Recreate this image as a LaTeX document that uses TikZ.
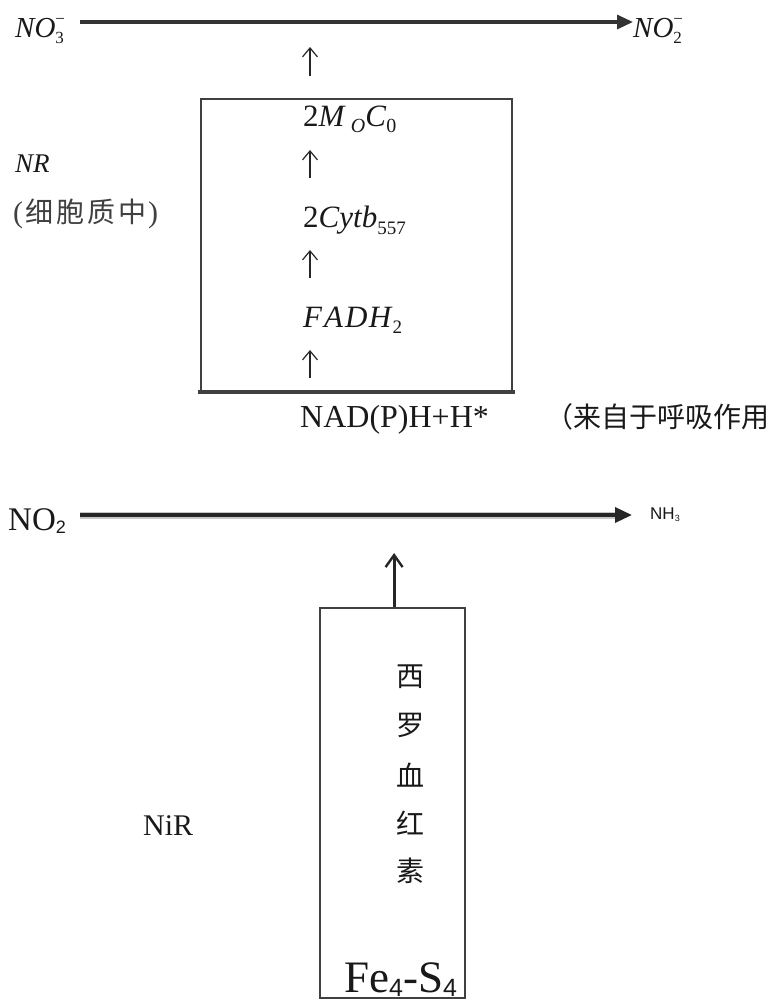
\documentclass[tikz,border=0pt]{standalone}
\usepackage{fontspec}
\setmainfont{Liberation Serif}
\newfontfamily\cjk{Noto Sans CJK SC}
\newfontfamily\sansf{Liberation Sans}
\usetikzlibrary{arrows.meta}
\newcommand\fs[1]{\fontsize{#1}{#1}\selectfont}
\newcommand\lowsub[3]{\raisebox{-#1}{\fs{#2}#3}}
\newcommand\subsup[2]{\rlap{\lowsub{6pt}{17}{#1}}\raisebox{13pt}{\fs{17}#2}}
\begin{document}
\begin{tikzpicture}[x=1pt,y=-1pt,
  lbl/.style={anchor=base west, inner sep=0pt, text=black!90},
  cjkchar/.style={anchor=center, inner sep=0pt, text=black!90, font=\fs{28}\cjk},
  boxline/.style={draw=black!75, line width=2.2pt, inner sep=0pt, anchor=north west},
  thinup/.style={draw=black!85, line width=1.2pt, -{Straight Barb[length=9pt,width=15pt,line width=1.2pt]}},
  thickup/.style={draw=black!85, line width=3pt, -{Straight Barb[length=12pt,width=17pt,line width=2.4pt]}},
  toparrow/.style={draw=black!80, line width=3.2pt, -{Triangle[length=16pt,width=14pt]}},
  lowarrow/.style={draw=black!85, line width=3.4pt, -{Triangle[length=17pt,width=15pt]}},
  halo/.style={draw=black!22, line width=7pt}
]
\fill[white] (0,0) rectangle (779,1002);
\useasboundingbox (0,0) rectangle (779,1002);

% ---------- upper part ----------
\node[lbl, font=\fs{29}] (no3) at (15,37) {\textit{NO}\subsup{3}{−}};
\node[lbl, font=\fs{29}] (no2) at (633,37) {\textit{NO}\subsup{2}{−}};
\coordinate (a1) at (80,22);
\draw[toparrow] (a1) -- (no2.west |- a1);

\node[boxline, minimum width=311pt, minimum height=292pt] (box1) at (200,98) {};
\draw[line width=3.6pt, black!75] ([xshift=-2pt]box1.south west) -- ([xshift=2pt]box1.south east);

\node[lbl, font=\fs{31}] (mo) at (303,126) {2\textit{M}\hspace{5pt}\lowsub{6pt}{20}{\textit{O}}\textit{C}\lowsub{6pt}{20}{0}};
\node[lbl, font=\fs{31}] (cyt) at (303,227) {2\textit{Cytb}\lowsub{7pt}{19}{557}};
\node[lbl, font=\fs{31}] (fad) at (303,327) {\textit{F\kern2pt A\kern2pt D\kern1.5pt H}\lowsub{6pt}{19}{2}};

\draw[thinup] (310,76) -- (310,47);
\draw[thinup] (310,178) -- (310,150);
\draw[thinup] (310,278) -- (310,250);
\draw[thinup] (310,378) -- (310,350);

\node[lbl, font=\fs{27}] (nr) at (15,172) {\textit{NR}};
\node[lbl, font=\fs{30}, text=black!75] (cyto) at (13,222) {(\hspace{2pt}{\fs{28}\cjk 细\hspace{3pt}胞\hspace{3pt}质\hspace{3pt}中}\hspace{2pt})};

\node[lbl, font=\fs{32}] (nad) at (300,427) {NAD(P)H+H*};
\node[lbl, font=\fs{28}\cjk] (resp) at (545,427) {（来自于呼吸作用};

% ---------- lower part ----------
\node[lbl, font=\fs{33}] (no2b) at (8,530) {NO\lowsub{3pt}{18}{\sansf 2}};
\node[lbl, font=\fs{17}\sansf] (nh3) at (650,519) {NH\lowsub{2pt}{9}{3}};
\coordinate (a2) at (80,515);
\draw[halo] (a2) -- ([xshift=-30pt]nh3.west |- a2);
\draw[lowarrow] (a2) -- ([xshift=-18pt]nh3.west |- a2);

\node[boxline, minimum width=145pt, minimum height=390pt] (box2) at (319,607) {};
\draw[thickup] ([xshift=1.5pt]box2.north) -- ++(0,-54);

\node[cjkchar] (c1) at (410,677) {西};
\node[cjkchar] (c2) at (410,725) {罗};
\node[cjkchar] (c3) at (410,775) {血};
\node[cjkchar] (c4) at (410,823) {红};
\node[cjkchar] (c5) at (410,871) {素};

\node[lbl, font=\fs{30}] (nir) at (143,835) {NiR};
\node[lbl, font=\fs{45}] (fes) at (344,992) {Fe\lowsub{4pt}{25}{\sansf 4}-S\lowsub{4pt}{25}{\sansf 4}};
\end{tikzpicture}
\end{document}
